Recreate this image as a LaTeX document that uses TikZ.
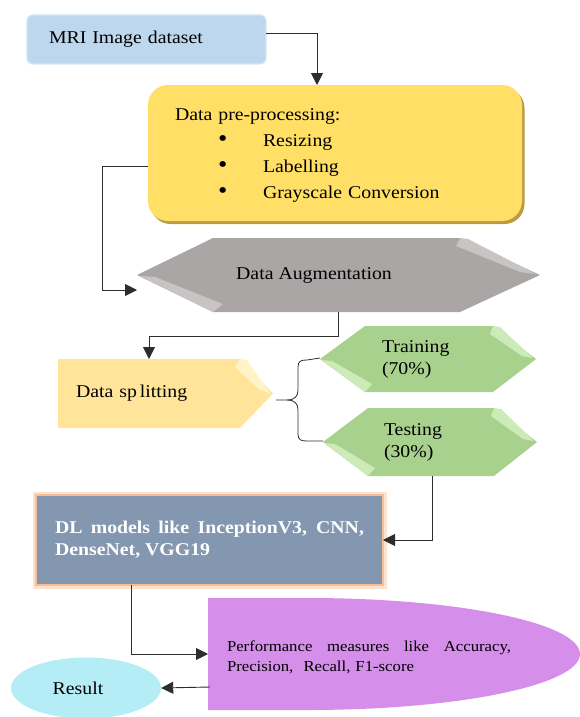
\documentclass[tikz,border=0pt]{standalone}
\usepackage{graphicx}
\usepackage{fontspec}
\setmainfont[FakeStretch=1.1]{Liberation Serif}
\usetikzlibrary{calc,arrows.meta,shapes.geometric,shadows}
\definecolor{mriblue}{RGB}{189,215,238}
\definecolor{mriedge}{RGB}{214,230,245}
\definecolor{gold}{RGB}{255,223,102}
\definecolor{goldshadow}{RGB}{176,138,30}
\definecolor{graybox}{RGB}{171,166,166}
\definecolor{graylight}{RGB}{200,196,196}
\definecolor{splityellow}{RGB}{255,228,153}
\definecolor{splitlight}{RGB}{255,244,200}
\definecolor{greenbox}{RGB}{169,209,142}
\definecolor{greenlight}{RGB}{205,235,185}
\definecolor{slate}{RGB}{132,151,176}
\definecolor{glowA}{RGB}{248,190,150}
\definecolor{glowB}{RGB}{253,226,206}
\definecolor{violet}{RGB}{213,142,233}
\definecolor{cyanres}{RGB}{180,237,246}
\definecolor{linecol}{RGB}{45,45,45}
\newcommand{\bigbul}{\raisebox{-0.6pt}{\scalebox{1.35}{\textbullet}}}
\pgfdeclarelayer{bg}
\pgfsetlayers{bg,main}
\begin{document}
\begin{tikzpicture}[x=1pt,y=1pt,
  txt/.style={font=\fontsize{18}{22}\selectfont, text=black},
  shapebox/.style={inner ysep=0pt, outer sep=0pt},
  conn/.style={draw=linecol, line width=0.9pt},
  arr/.style={conn, -{Triangle[length=12pt,width=12pt]}}
]
\useasboundingbox (0,0) rectangle (580,-717);

% ---- nodes ----
\node[shapebox, txt, minimum width=239, minimum height=49, inner xsep=22,
      text width=195, align=left, fill=mriblue, draw=mriedge, line width=1.2pt,
      rounded corners=6] (mri) at (146.5,-39.5) {MRI Image dataset};

\node[shapebox, minimum width=374, minimum height=136, inner xsep=27,
      text width=320, align=left, fill=gold, rounded corners=20,
      font=\fontsize{18}{26}\selectfont,
      drop shadow={shadow xshift=2.5pt, shadow yshift=-3pt, fill=goldshadow, opacity=0.85}]
  (pre) at (335,-153)
  {\rule{0pt}{16pt}Data pre-processing:\\
   \hspace*{43pt}\makebox[45pt][l]{\bigbul}Resizing\\
   \hspace*{43pt}\makebox[45pt][l]{\bigbul}Labelling\\
   \hspace*{43pt}\makebox[45pt][l]{\bigbul}Grayscale Conversion};

\node[shapebox, txt, minimum width=403, minimum height=74, inner xsep=0pt]
  (aug) at (338.5,-275) {Data Augmentation\hspace*{49pt}};

\node[shapebox, txt, minimum width=215, minimum height=69, inner xsep=18,
      text width=179, align=left] (ds) at (165.5,-393.5) {Data sp\,litting};

\node[shapebox, txt, minimum width=216, minimum height=66, inner xsep=62,
      text width=92, align=left] (train) at (428,-359) {Training\\(70\%)};

\node[shapebox, txt, minimum width=214, minimum height=68, inner xsep=61,
      text width=92, align=left] (test) at (430,-442) {Testing\\(30\%)};

\node[shapebox, minimum width=347, minimum height=90, inner xsep=19,
      text width=309, align=justify, fill=slate, text=white,
      font=\fontsize{18}{22}\selectfont\bfseries,
      draw=glowA, line width=1.5pt, preaction={draw=glowB, line width=7pt}]
  (dl) at (209.5,-540) {DL models like InceptionV3, CNN, DenseNet, VGG19};

\node[shapebox, minimum width=372, minimum height=112, inner xsep=0pt]
  (perf) at (394,-654) {};
\node[shapebox, inner xsep=0pt, anchor=west, text width=284, align=left,
      font=\fontsize{15.2}{20}\selectfont]
  (perft) at ($(perf.west)+(19,-3)$)
  {\makebox[284pt][l]{Performance\hfill measures\hfill like\hfill Accuracy,}\\Precision,\ \ Recall,\ F1-score};

\node[ellipse, txt, minimum width=150, minimum height=61, inner sep=0pt,
      fill=cyanres] (res) at (86,-688) {Result\hspace*{16pt}};

% ---- shapes drawn behind ----
\begin{pgfonlayer}{bg}
  % gray hexagon
  \fill[graybox] (aug.west) -- ($(aug.north west)+(76,0)$) -- ($(aug.north east)+(-80,0)$)
     -- (aug.east) -- ($(aug.south east)+(-80,0)$) -- ($(aug.south west)+(76,0)$) -- cycle;
  \fill[graylight] ($(aug.west)+(3,-1)$) -- ($(aug.west)+(18,-2)$) -- ($(aug.south west)+(86,8)$)
     -- ($(aug.south west)+(76,0)$) -- cycle;
  \fill[graylight] ($(aug.north east)+(-80,0)$) -- ($(aug.north east)+(-72,-1)$) -- ($(aug.east)+(-4,1)$)
     -- ($(aug.east)+(-20,3)$) -- ($(aug.north east)+(-84,-8)$) -- cycle;
  % data splitting pentagon
  \fill[splityellow] (ds.north west) -- ($(ds.north east)+(-33,0)$) -- (ds.east)
     -- ($(ds.south east)+(-33,0)$) -- (ds.south west) -- cycle;
  \fill[splitlight] ($(ds.north east)+(-33,0)$) -- ($(ds.north east)+(-26,-1)$) -- ($(ds.east)+(-3,0)$)
     -- ($(ds.east)+(-14,4)$) -- ($(ds.north east)+(-38,-8)$) -- cycle;
  % training hexagon
  \fill[greenbox] (train.west) -- ($(train.north west)+(45,0)$) -- ($(train.north east)+(-43,0)$)
     -- (train.east) -- ($(train.south east)+(-43,0)$) -- ($(train.south west)+(45,0)$) -- cycle;
  \fill[greenlight] ($(train.west)+(2,-1)$) -- ($(train.west)+(12,-2)$) -- ($(train.south west)+(52,8)$)
     -- ($(train.south west)+(45,0)$) -- cycle;
  \fill[greenlight] ($(train.north east)+(-43,0)$) -- ($(train.north east)+(-36,-1)$) -- ($(train.east)+(-3,1)$)
     -- ($(train.east)+(-14,3)$) -- ($(train.north east)+(-46,-8)$) -- cycle;
  % testing hexagon
  \fill[greenbox] (test.west) -- ($(test.north west)+(45,0)$) -- ($(test.north east)+(-43,0)$)
     -- (test.east) -- ($(test.south east)+(-43,0)$) -- ($(test.south west)+(45,0)$) -- cycle;
  \fill[greenlight] ($(test.west)+(2,-1)$) -- ($(test.west)+(12,-2)$) -- ($(test.south west)+(52,8)$)
     -- ($(test.south west)+(45,0)$) -- cycle;
  \fill[greenlight] ($(test.north east)+(-43,0)$) -- ($(test.north east)+(-36,-1)$) -- ($(test.east)+(-3,1)$)
     -- ($(test.east)+(-14,3)$) -- ($(test.north east)+(-46,-8)$) -- cycle;
  % performance shape
  \fill[violet] (perf.north west) -- ($(perf.north west)+(100,0)$)
     arc[start angle=90, end angle=-90, x radius=272, y radius=56] -- (perf.south west) -- cycle;
\end{pgfonlayer}

% ---- connectors ----
\draw[arr] ($(mri.east)+(0,6.5)$) -| ($(pre.north)+(-18,0)$);
\draw[arr] ($(pre.west)+(0,-13)$) -- ++(-46,0) |- ($(aug.west)+(0,-15)$);
\draw[arr] (aug.south) |- ++(-189.5,-24) -- ($(ds.north west)+(91,0)$);
\coordinate (bmid) at ($(ds.east)+(3,-6.5)$);
\draw[conn, line width=0.8pt] (bmid) -- ++(11,0) .. controls ++(8,0) and ++(0,6) .. ++(11,-10)
   -- ++(0,-24) .. controls ++(0,-6) and ++(-6,0) .. ++(9,-7) -- ($(test.west)+(0,1)$);
\draw[conn, line width=0.8pt] ($(bmid)+(11,0)$) .. controls ++(8,0) and ++(0,-6) .. ++(11,10)
   -- ++(0,23) .. controls ++(0,6) and ++(-6,0) .. ++(9,7) -- ($(train.west)+(0,1)$);
\draw[arr] ($(test.south)+(2,0)$) |- (dl.east);
\draw[arr] ($(dl.south west)+(95,0)$) |- (perf.west);
\draw[arr] ($(perf.south west)+(2,23)$) -- (res.east);
\end{tikzpicture}
\end{document}
